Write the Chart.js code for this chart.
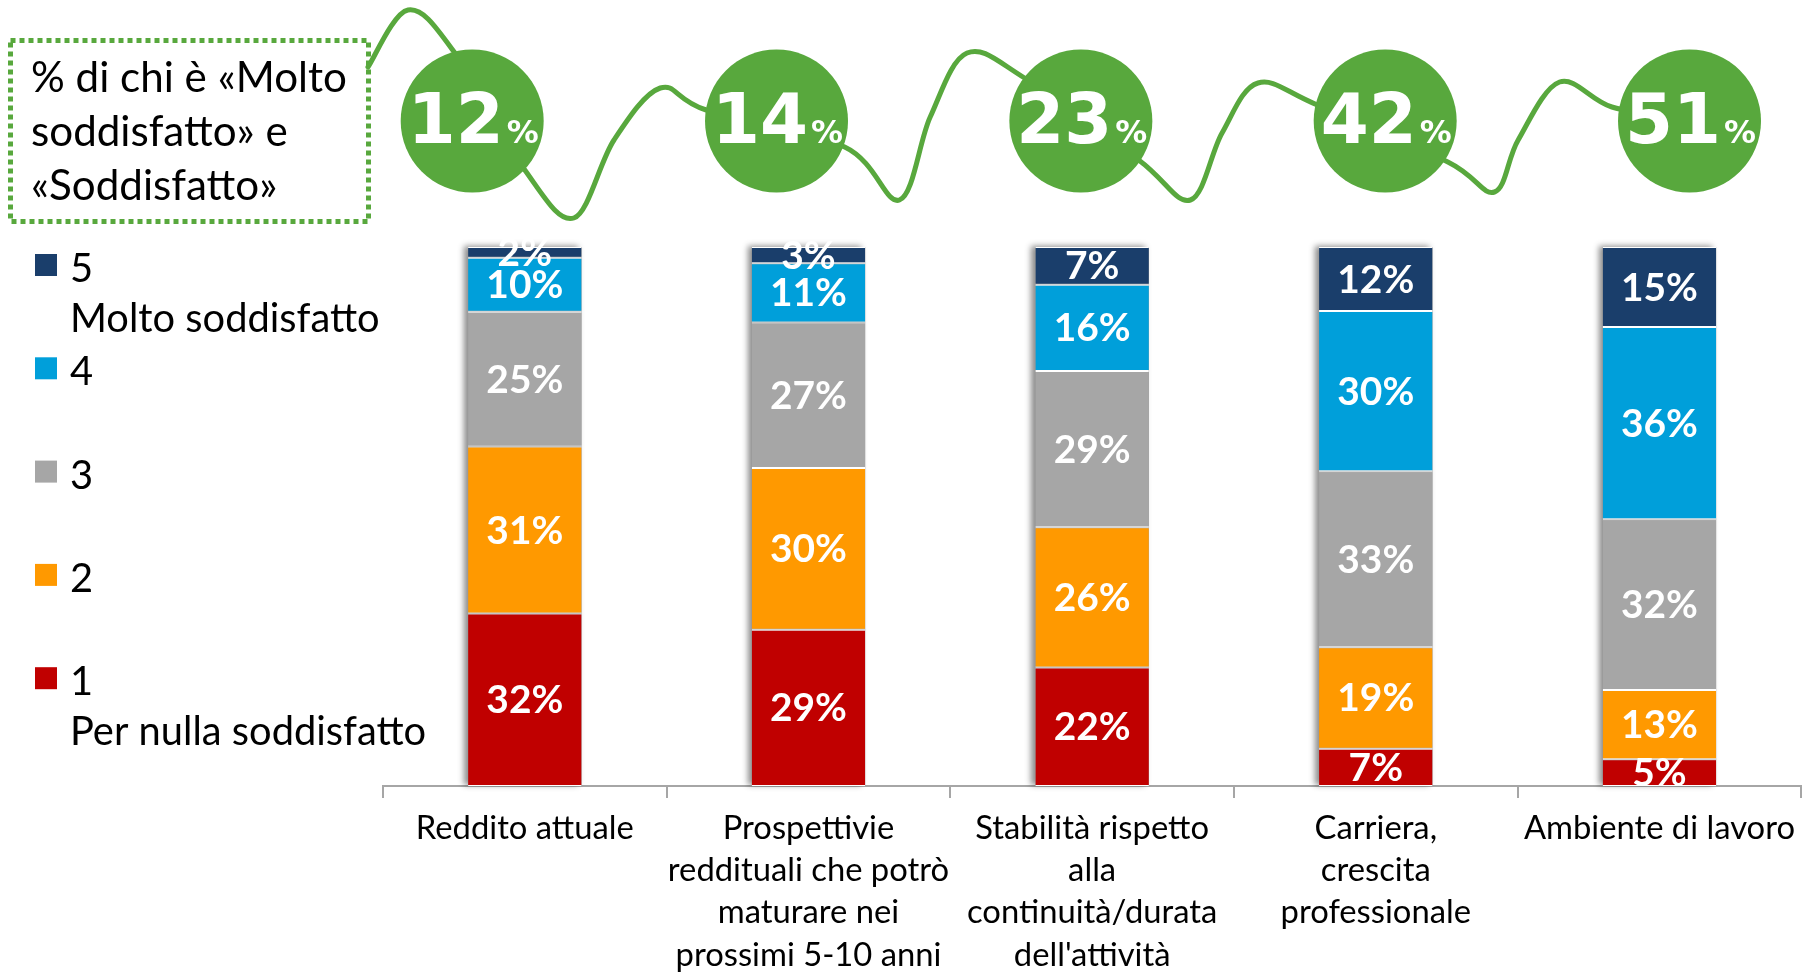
<!DOCTYPE html>
<html><head><meta charset="utf-8">
<script src="https://cdn.jsdelivr.net/npm/chart.js@4.4.1/dist/chart.umd.min.js"></script>
<style>html,body{margin:0;padding:0;background:#fff;overflow:hidden}</style>
</head><body>
<canvas id="c" width="1804" height="975" style="display:block;width:1804px;height:975px"></canvas>
<script>
// ---------- DATA ----------
const categories = [
  ["Reddito attuale"],
  ["Prospettivie", "reddituali che potrò", "maturare nei", "prossimi 5-10 anni"],
  ["Stabilità rispetto", "alla", "continuità/durata", "dell'attività"],
  ["Carriera,", "crescita", "professionale"],
  ["Ambiente di lavoro"]
];
const level1 = [32, 29, 22, 7, 5];    // 1 Per nulla soddisfatto
const level2 = [31, 30, 26, 19, 13];  // 2
const level3 = [25, 27, 29, 33, 32];  // 3
const level4 = [10, 11, 16, 30, 36];  // 4
const level5 = [2, 3, 7, 12, 15];     // 5 Molto soddisfatto
const topTwo = [12, 14, 23, 42, 51];  // % Molto soddisfatto + Soddisfatto
const seriesNames = ["1", "2", "3", "4", "5"];
const seriesSubtitles = ["Per nulla soddisfatto", "", "", "", "Molto soddisfatto"];
const boxLines = ["% di chi è «Molto", "soddisfatto» e", "«Soddisfatto»"];

// ---------- STYLE ----------
const colors = ["#C00000", "#FF9900", "#A6A6A6", "#009FDA", "#1A3E6B"];
const GREEN = "#58A83D";
const TEXT_FAM = 'Lato, "Open Sans", sans-serif';
const NUM_FAM = '"DejaVu Sans", sans-serif';

const mctx = document.createElement('canvas').getContext('2d');
function fit(text, w, weight, fam) {
  mctx.font = weight + ' 100px ' + fam;
  return 100 * w / mctx.measureText(text).width;
}
const tickSize = (fit('Reddito attuale', 220, '400', TEXT_FAM) + fit('Ambiente di lavoro', 269, '400', TEXT_FAM)) / 2;
const legendSize = (fit('Molto soddisfatto', 309, '400', TEXT_FAM) + fit('Per nulla soddisfatto', 357, '400', TEXT_FAM)) / 2;
const boxSize = fit(boxLines[0], 316, '400', TEXT_FAM);
const labelSize = (fit('32%', 76, 'bold', TEXT_FAM) + fit('36%', 78, 'bold', TEXT_FAM)) / 2;
const badgeSize = fit('12', 96, 'bold', NUM_FAM);
const badgePctSize = fit('%', 32, 'bold', NUM_FAM);

const levels = [level1, level2, level3, level4, level5];
const totals = categories.map((c, j) => levels.reduce((s, l) => s + l[j], 0));

const datasets = levels.map((arr, i) => ({
  label: seriesNames[i],
  data: arr.map((v, j) => v / totals[j] * 100),
  raw: arr,
  backgroundColor: colors[i],
  borderColor: '#ffffff',
  borderWidth: {top: 1, bottom: 1, left: 0, right: 0},
  borderSkipped: false,
  barPercentage: 0.4,
  categoryPercentage: 1.0
}));

// decorative wave: points as fraction between badge centres + y
const WAVE_GAPS = [
  [[.173,170],[.334,218],[.466,140],[.618,88],[.769,110]],
  [[.224,147],[.404,200],[.505,117],[.626,53],[.815,78]],
  [[.19,160],[.36,200],[.464,133],[.582,83],[.777,105]],
  [[.206,162],[.359,192],[.437,140],[.573,82],[.745,107]]
];
const BADGE_START = -0.1856, BADGE_STEP = 1.0729, BADGE_CY = 121, BADGE_R = 71.5;

function curveThrough(ctx, pts) {
  ctx.moveTo(pts[0][0], pts[0][1]);
  for (let i = 0; i < pts.length - 1; i++) {
    const p0 = pts[i - 1] || pts[i], p1 = pts[i], p2 = pts[i + 1], p3 = pts[i + 2] || p2;
    ctx.bezierCurveTo(p1[0] + (p2[0] - p0[0]) / 6, p1[1] + (p2[1] - p0[1]) / 6,
                      p2[0] - (p3[0] - p1[0]) / 6, p2[1] - (p3[1] - p1[1]) / 6, p2[0], p2[1]);
  }
}

const decor = {
  id: 'decor',
  beforeDatasetsDraw(chart) {
    const ctx = chart.ctx;
    const metas = chart.data.datasets.map((d, i) => chart.getDatasetMeta(i));
    ctx.save();
    for (let j = 0; j < chart.data.labels.length; j++) {
      let top = Infinity, bottom = -Infinity, x = 0, w = 0;
      metas.forEach(m => { const el = m.data[j]; top = Math.min(top, el.y, el.base); bottom = Math.max(bottom, el.y, el.base); x = el.x; w = el.width; });
      ctx.shadowColor = 'rgba(0,0,0,0.45)';
      ctx.shadowBlur = 6; ctx.shadowOffsetX = -4; ctx.shadowOffsetY = -1;
      ctx.fillStyle = '#999';
      ctx.fillRect(x - w / 2, top, w, bottom - top);
    }
    ctx.restore();
  },
  afterDatasetsDraw(chart) {
    const ctx = chart.ctx;
    ctx.save();
    ctx.fillStyle = '#fff';
    ctx.font = 'bold ' + labelSize + 'px ' + TEXT_FAM;
    ctx.textAlign = 'center';
    ctx.textBaseline = 'middle';
    chart.data.datasets.forEach((ds, i) => {
      chart.getDatasetMeta(i).data.forEach((el, j) => {
        ctx.fillText(ds.raw[j] + '%', el.x, (el.y + el.base) / 2 + 1);
      });
    });
    ctx.restore();
  },
  afterDraw(chart) {
    const ctx = chart.ctx;
    const xs = chart.scales.x;
    const step = xs.getPixelForValue(1) - xs.getPixelForValue(0);
    const cx = topTwo.map((v, i) => xs.getPixelForValue(0) + (BADGE_START + i * BADGE_STEP) * step);
    ctx.save();
    // dotted box
    ctx.strokeStyle = GREEN; ctx.lineWidth = 5; ctx.setLineDash([5, 4]);
    ctx.strokeRect(10.5, 40.5, 358, 181);
    ctx.setLineDash([]);
    ctx.fillStyle = '#000';
    ctx.font = boxSize + 'px ' + TEXT_FAM;
    ctx.textAlign = 'left'; ctx.textBaseline = 'alphabetic';
    boxLines.forEach((t, k) => ctx.fillText(t, 31, 92 + k * 54));
    // legend (top to bottom: 5..1)
    ctx.font = legendSize + 'px ' + TEXT_FAM;
    for (let k = 0; k < 5; k++) {
      const i = 4 - k;
      const base = 276 + k * 103.3;
      ctx.fillStyle = colors[i];
      ctx.fillRect(35, base - 22, 22, 22);
      ctx.fillStyle = '#000';
      ctx.fillText(seriesNames[i], 70, base + 6);
      if (seriesSubtitles[i]) ctx.fillText(seriesSubtitles[i], 70, base + 56);
    }
    // wave
    const pts = [[368, 67], [408, 10], [cx[0] - 18, 52]];
    WAVE_GAPS.forEach((g, i) => g.forEach(p => pts.push([cx[i] + p[0] * (cx[i + 1] - cx[i]), p[1]])));
    pts.push([cx[4], BADGE_CY]);
    ctx.beginPath();
    curveThrough(ctx, pts);
    ctx.strokeStyle = GREEN; ctx.lineWidth = 5; ctx.lineCap = 'round';
    ctx.stroke();
    // badges
    topTwo.forEach((v, i) => {
      ctx.beginPath();
      ctx.arc(cx[i], BADGE_CY, BADGE_R, 0, Math.PI * 2);
      ctx.fillStyle = GREEN; ctx.fill();
      ctx.fillStyle = '#fff';
      const dFont = 'bold ' + badgeSize + 'px ' + NUM_FAM;
      const pFont = 'bold ' + badgePctSize + 'px ' + NUM_FAM;
      ctx.font = dFont; const wd = ctx.measureText(String(v)).width;
      ctx.font = pFont; const wp = ctx.measureText('%').width;
      const x0 = cx[i] + 1 - (wd + 3 + wp) / 2;
      ctx.textAlign = 'left';
      ctx.font = dFont; ctx.fillText(String(v), x0, BADGE_CY + 22);
      ctx.font = pFont; ctx.fillText('%', x0 + wd + 3, BADGE_CY + 22);
    });
    ctx.restore();
  }
};

new Chart(document.getElementById('c'), {
  type: 'bar',
  data: { labels: categories, datasets },
  options: {
    responsive: false, animation: false, devicePixelRatio: 1,
    layout: { padding: { left: 383, top: 247, right: 0, bottom: 0 } },
    plugins: { legend: { display: false }, tooltip: { enabled: false } },
    scales: {
      x: {
        stacked: true, offset: true,
        grid: { offset: true, drawOnChartArea: false, drawTicks: true, tickLength: 12, color: '#A6A6A6', lineWidth: 2 },
        border: { display: true, color: '#A6A6A6', width: 2 },
        ticks: { color: '#000', font: { family: TEXT_FAM, size: tickSize, lineHeight: 42.3 / tickSize }, padding: 9, maxRotation: 0, autoSkip: false },
        afterFit: s => { s.height = 189; }
      },
      y: { stacked: true, display: false, min: 0, max: 100 }
    }
  },
  plugins: [decor]
});
</script>
</body></html>
